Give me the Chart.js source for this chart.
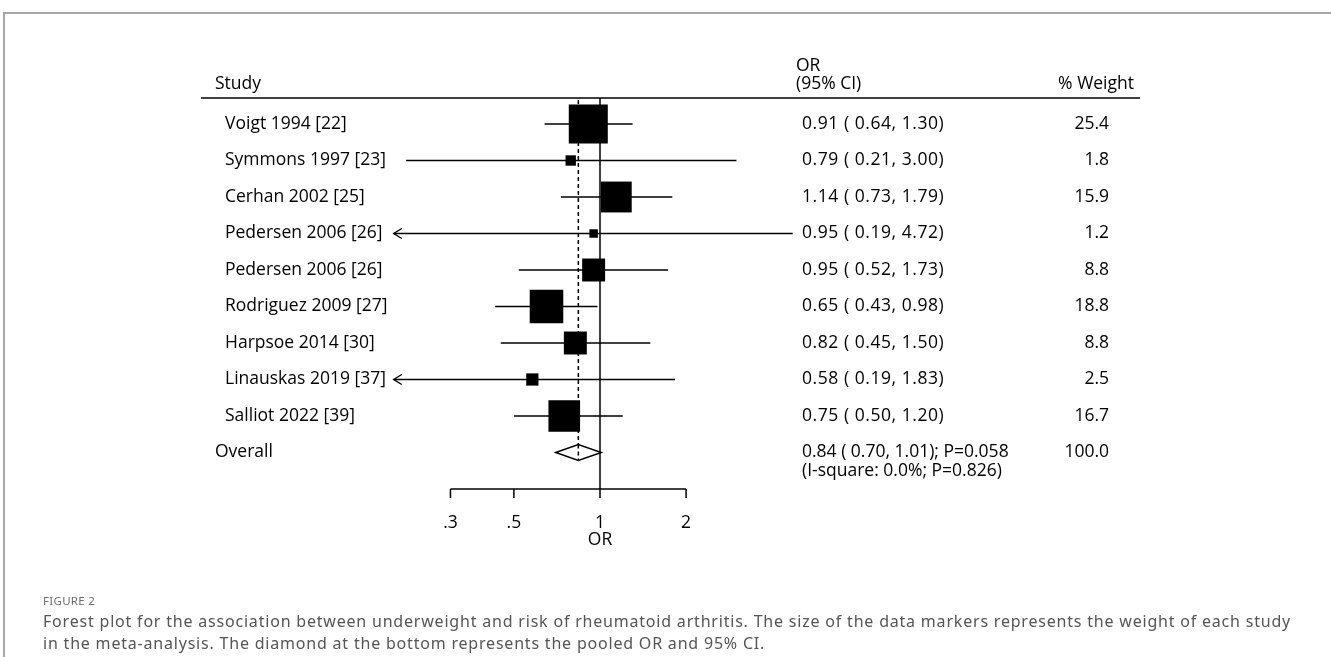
<!DOCTYPE html>
<html>
<head>
<meta charset="utf-8">
<script src="https://cdn.jsdelivr.net/npm/chart.js@4.4.1/dist/chart.umd.min.js"></script>
<style>
  html, body { margin: 0; padding: 0; background: #fff; }
  body { width: 1331px; height: 657px; position: relative; overflow: hidden; }
  #frame { position: absolute; left: 3px; top: 12px; right: 0; bottom: 0;
           border-top: 2px solid #a6a6a6; border-left: 2px solid #a6a6a6; }
  #wrap { position: absolute; left: 0; top: 0; width: 1331px; height: 657px; }
  #figlabel { position: absolute; left: 43px; top: 593px; font-family: "Noto Sans", sans-serif;
              font-size: 11.5px; color: #6e6e6e; letter-spacing: 0.3px; }
  #caption { position: absolute; left: 43px; top: 610px; width: 1285px; font-family: "Noto Sans", sans-serif;
             font-size: 16px; line-height: 22px; color: #555; letter-spacing: 0.8px; white-space: nowrap; }
</style>
</head>
<body>
<div id="frame"></div>
<div id="wrap"><canvas id="c" width="1331" height="657"></canvas></div>
<div id="figlabel">FIGURE 2</div>
<div id="caption">Forest plot for the association between underweight and risk of rheumatoid arthritis. The size of the data markers represents the weight of each study<br>in the meta-analysis. The diamond at the bottom represents the pooled OR and 95% CI.</div>
<script>
// ---- data ----
const studies = ["Voigt 1994 [22]", "Symmons 1997 [23]", "Cerhan 2002 [25]", "Pedersen 2006 [26]",
  "Pedersen 2006 [26]", "Rodriguez 2009 [27]", "Harpsoe 2014 [30]", "Linauskas 2019 [37]", "Salliot 2022 [39]"];
const orValues = [0.91, 0.79, 1.14, 0.95, 0.95, 0.65, 0.82, 0.58, 0.75];
const ciLow    = [0.64, 0.21, 0.73, 0.19, 0.52, 0.43, 0.45, 0.19, 0.50];
const ciHigh   = [1.30, 3.00, 1.79, 4.72, 1.73, 0.98, 1.50, 1.83, 1.20];
const weights  = [25.4, 1.8, 15.9, 1.2, 8.8, 18.8, 8.8, 2.5, 16.7];
const arrowLeft = [false, false, false, true, false, false, false, true, false];
const ciText = ["0.91 ( 0.64, 1.30)", "0.79 ( 0.21, 3.00)", "1.14 ( 0.73, 1.79)", "0.95 ( 0.19, 4.72)",
  "0.95 ( 0.52, 1.73)", "0.65 ( 0.43, 0.98)", "0.82 ( 0.45, 1.50)", "0.58 ( 0.19, 1.83)", "0.75 ( 0.50, 1.20)"];
const weightText = ["25.4", "1.8", "15.9", "1.2", "8.8", "18.8", "8.8", "2.5", "16.7"];
const overall = { label: "Overall", or: 0.84, lo: 0.70, hi: 1.01,
  text1: "0.84 ( 0.70, 1.01); P=0.058", text2: "(I-square: 0.0%; P=0.826)", weight: "100.0" };
const tickValues = [0.3, 0.5, 1, 2];
const tickLabels = [".3", ".5", "1", "2"];

// ---- layout ----
const FONT = '"Open Sans", "Noto Sans", sans-serif';
const FSIZE = 17.5;
const AREA = { left: 201, right: 1140, top: 98, bottom: 489 };
const PX_PER_DECADE = 286, ONE_X = 600;
const xMin = Math.pow(10, -(ONE_X - AREA.left) / PX_PER_DECADE);
const xMax = Math.pow(10, (AREA.right - ONE_X) / PX_PER_DECADE);
const ROW0 = 124, ROWH = 36.5;
const yMin = -(ROW0 - AREA.top) / ROWH;
const yMax = yMin + (AREA.bottom - AREA.top) / ROWH;
const BOX_K = 7.74;
const COL_STUDY = 225, COL_HEAD = 215, COL_CI = 802, COL_CIHEAD = 796, COL_W = 1109, COL_WHEAD = 1134;

const points = orValues.map((v, i) => ({ x: v, y: i }));
const radii = weights.map(w => BOX_K * Math.sqrt(w) / Math.SQRT2);

const forestPlugin = {
  id: 'forest',
  beforeDatasetsDraw(chart) {
    const { ctx, scales: { x, y } } = chart;
    ctx.save();
    ctx.strokeStyle = '#000';
    ctx.fillStyle = '#000';
    // header line
    ctx.lineWidth = 1.5;
    ctx.beginPath(); ctx.moveTo(AREA.left, AREA.top); ctx.lineTo(AREA.right, AREA.top); ctx.stroke();
    // null line at 1
    const x1 = x.getPixelForValue(1);
    ctx.beginPath(); ctx.moveTo(x1, AREA.top); ctx.lineTo(x1, y.getPixelForValue(yMax)); ctx.stroke();
    // overall dashed line
    const xo = x.getPixelForValue(overall.or);
    ctx.setLineDash([4, 3]);
    ctx.beginPath(); ctx.moveTo(xo, AREA.top + 2); ctx.lineTo(xo, y.getPixelForValue(9)); ctx.stroke();
    ctx.setLineDash([]);
    // CI lines
    ctx.lineWidth = 1.4;
    for (let i = 0; i < orValues.length; i++) {
      const py = y.getPixelForValue(i);
      const a = x.getPixelForValue(ciLow[i]), b = x.getPixelForValue(ciHigh[i]);
      ctx.beginPath(); ctx.moveTo(a, py); ctx.lineTo(b, py); ctx.stroke();
      if (arrowLeft[i]) {
        ctx.beginPath(); ctx.moveTo(a + 8, py - 5); ctx.lineTo(a, py); ctx.lineTo(a + 8, py + 5); ctx.stroke();
      }
    }
    // diamond
    const yo = y.getPixelForValue(9);
    const dl = x.getPixelForValue(overall.lo), dr = x.getPixelForValue(overall.hi);
    ctx.fillStyle = '#fff';
    ctx.lineWidth = 1.5;
    ctx.beginPath();
    ctx.moveTo(dl, yo); ctx.lineTo(xo, yo - 8); ctx.lineTo(dr, yo); ctx.lineTo(xo, yo + 8); ctx.closePath();
    ctx.fill(); ctx.stroke();
    ctx.setLineDash([4, 3]);
    ctx.beginPath(); ctx.moveTo(xo, yo - 8); ctx.lineTo(xo, yo + 8); ctx.stroke();
    ctx.setLineDash([]);
    // x axis
    const ay = y.getPixelForValue(yMax);
    ctx.beginPath();
    ctx.moveTo(x.getPixelForValue(tickValues[0]), ay);
    ctx.lineTo(x.getPixelForValue(tickValues[tickValues.length - 1]), ay);
    ctx.stroke();
    ctx.fillStyle = '#000';
    ctx.font = FSIZE + 'px ' + FONT;
    ctx.textAlign = 'center'; ctx.textBaseline = 'middle';
    tickValues.forEach((t, k) => {
      const tx = x.getPixelForValue(t);
      ctx.beginPath(); ctx.moveTo(tx, ay); ctx.lineTo(tx, ay + 9); ctx.stroke();
      ctx.fillText(tickLabels[k], tx, ay + 34);
    });
    ctx.fillText('OR', x1, ay + 51);
    // text columns
    ctx.textAlign = 'left';
    ctx.fillText('Study', COL_HEAD, 84);
    ctx.fillText('OR', COL_CIHEAD, 66);
    ctx.fillText('(95% CI)', COL_CIHEAD, 84);
    ctx.textAlign = 'right';
    ctx.fillText('% Weight', COL_WHEAD, 84);
    for (let i = 0; i < studies.length; i++) {
      const py = y.getPixelForValue(i);
      ctx.textAlign = 'left';
      ctx.fillText(studies[i], COL_STUDY, py);
      ctx.letterSpacing = '0.55px';
      ctx.fillText(ciText[i], COL_CI, py);
      ctx.letterSpacing = '0px';
      ctx.textAlign = 'right';
      ctx.fillText(weightText[i], COL_W, py);
    }
    ctx.textAlign = 'left';
    ctx.fillText(overall.label, COL_HEAD, yo);
    ctx.fillText(overall.text1, COL_CI, yo);
    ctx.fillText(overall.text2, COL_CI, yo + 19);
    ctx.textAlign = 'right';
    ctx.fillText(overall.weight, COL_W, yo);
    ctx.restore();
  }
};

new Chart(document.getElementById('c'), {
  type: 'scatter',
  data: {
    datasets: [{
      data: points,
      pointStyle: 'rect',
      pointRadius: radii,
      pointHoverRadius: radii,
      backgroundColor: '#000',
      borderColor: '#000',
      borderWidth: 0
    }]
  },
  options: {
    responsive: false,
    animation: false,
    events: [],
    layout: { padding: { left: AREA.left, right: 1331 - AREA.right, top: AREA.top, bottom: 657 - AREA.bottom } },
    plugins: { legend: { display: false }, tooltip: { enabled: false } },
    scales: {
      x: { type: 'logarithmic', min: xMin, max: xMax, display: false },
      y: { type: 'linear', min: yMin, max: yMax, reverse: true, display: false }
    }
  },
  plugins: [forestPlugin]
});
</script>
</body>
</html>
